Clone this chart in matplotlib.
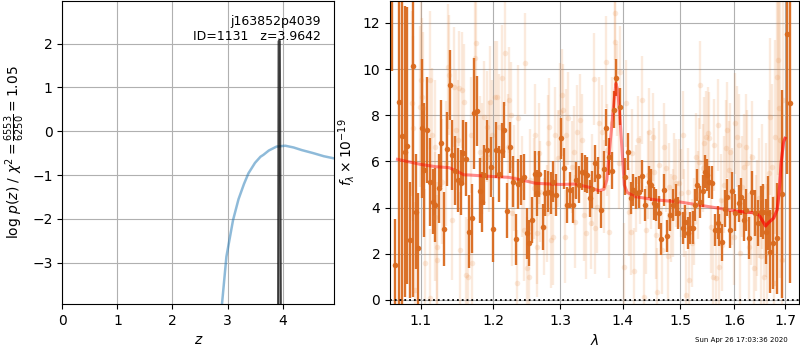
import numpy as np
import matplotlib
matplotlib.use("Agg")
import matplotlib.pyplot as plt
from matplotlib.ticker import FixedLocator, NullLocator, FormatStrFormatter

# ---------------- left panel data ----------------
z_coarse = [2.85, 2.90, 2.98, 3.10, 3.20, 3.30, 3.38, 3.50, 3.60, 3.65, 3.75,
            3.89, 4.05, 4.20, 4.35, 4.56, 4.75, 4.94]
logp_coarse = [-5.0, -3.94, -2.86, -2.03, -1.55, -1.20, -0.96, -0.72, -0.58,
               -0.54, -0.44, -0.35, -0.33, -0.37, -0.43, -0.50, -0.57, -0.62]
z_fine = [3.915, 3.928, 3.938, 3.950, 3.962, 3.975]
logp_fine = [-6.0, 2.05, 2.07, 2.06, -1.5, -6.0]
obj_name = "j163852p4039"
obj_id = 1131
z_best = 3.9642
chi2_num, chi2_den, chi2_red = 6553, 6250, 1.05

# ---------------- right panel data ----------------
dark_lam = [1.0636, 1.0671, 1.0716, 1.0756, 1.0791, 1.0822, 1.0862, 1.0902, 1.0942, 1.0960,
            1.1014, 1.1050, 1.1087, 1.1119, 1.1161, 1.1197, 1.1243, 1.1271, 1.1312, 1.1353,
            1.1395, 1.1422, 1.1464, 1.1500, 1.1542, 1.1574, 1.1610, 1.1656, 1.1693, 1.1725,
            1.1771, 1.1803, 1.1840, 1.1872, 1.1913, 1.1959, 1.2000, 1.2040, 1.2074, 1.2124,
            1.2158, 1.2193, 1.2233, 1.2282, 1.2327, 1.2361, 1.2401, 1.2446, 1.2485, 1.2520,
            1.2559, 1.2604, 1.2644, 1.2678, 1.2728, 1.2767, 1.2807, 1.2851, 1.2891, 1.2931,
            1.3005, 1.3060, 1.3108, 1.3151, 1.3195, 1.3243, 1.3287, 1.3341, 1.3384, 1.3422,
            1.3465, 1.3503, 1.3546, 1.3600, 1.3644, 1.3692, 1.3725, 1.3774, 1.3822, 1.3860,
            1.3898, 1.3952, 1.4047, 1.4094, 1.4135, 1.4176, 1.4222, 1.4281, 1.4333, 1.4386,
            1.4445, 1.4480, 1.4532, 1.4573, 1.4620, 1.4667, 1.4720, 1.4766, 1.4825, 1.4878,
            1.4924, 1.4954, 1.5043, 1.5092, 1.5134, 1.5183, 1.5226, 1.5268, 1.5305, 1.5366,
            1.5409, 1.5451, 1.5488, 1.5531, 1.5580, 1.5640, 1.5683, 1.5714, 1.5763, 1.5824,
            1.5866, 1.5915, 1.5958, 1.6020, 1.6085, 1.6137, 1.6183, 1.6235, 1.6281, 1.6334,
            1.6399, 1.6464, 1.6510, 1.6562, 1.6608, 1.6654, 1.6706, 1.6759, 1.6837, 1.6935,
            1.7033, 1.7098]
dark_flux = [16.0, 1.5, 8.56, 7.10, 6.42, 6.67, 2.60, 10.13, 3.82, 2.24,
             7.43, 5.63, 7.36, 5.12, 4.26, 4.11, 4.83, 6.78, 3.06, 6.54,
             9.31, 6.28, 5.60, 5.19, 5.08, 6.38, 6.09, 2.96, 3.54, 8.08,
             8.18, 4.73, 4.26, 5.41, 6.49, 5.77, 3.06, 6.49, 5.45, 6.46,
             7.36, 3.87, 6.61, 5.12, 2.63, 5.02, 5.19, 5.31, 2.89, 2.48,
             3.46, 5.45, 4.62, 5.45, 3.15, 4.62, 4.69, 4.62, 5.12, 4.55,
             7.00, 5.70, 4.11, 4.76, 4.11, 5.19, 4.98, 5.56, 5.48, 5.41,
             4.40, 4.79, 5.92, 5.37, 3.90, 5.66, 7.46, 6.20, 5.60, 8.23,
             9.62, 8.37, 5.34, 6.41, 4.40, 4.76, 4.62, 4.66, 5.38, 4.11,
             5.12, 4.98, 4.18, 4.11, 3.78, 2.64, 4.76, 2.77, 3.68, 4.11,
             4.33, 3.75, 3.10, 3.39, 2.89, 3.10, 3.13, 4.11, 4.98, 4.23,
             4.72, 5.56, 5.41, 5.12, 5.08, 3.03, 3.35, 3.03, 2.50, 3.94,
             4.44, 3.03, 4.73, 3.78, 4.18, 4.47, 3.46, 3.90, 2.67, 4.69,
             3.75, 3.32, 3.82, 3.82, 2.96, 3.75, 2.09, 2.45, 2.67, 4.59,
             11.54, 8.51]
dark_err = [6.1, 2.0, 9.0, 7.5, 6.3, 6.0, 2.5, 10.0, 2.5, 2.4,
            3.0, 2.9, 2.3, 1.9, 1.4, 1.6, 1.5, 1.9, 1.6, 1.6,
            1.5, 1.5, 1.5, 1.4, 1.4, 1.4, 1.6, 1.6, 1.5, 2.4,
            1.5, 1.4, 1.3, 1.3, 1.3, 1.3, 1.4, 1.2, 1.2, 1.2,
            1.2, 1.2, 1.1, 1.1, 1.1, 1.1, 1.1, 1.0, 1.1, 1.0,
            1.0, 1.0, 1.0, 1.0, 1.0, 1.0, 0.9, 0.9, 0.9, 0.9,
            0.9, 0.9, 0.8, 0.8, 0.8, 0.8, 0.8, 0.8, 0.8, 0.8,
            0.8, 0.8, 0.8, 0.8, 0.8, 0.8, 0.8, 0.8, 0.8, 0.8,
            0.8, 0.8, 0.8, 0.8, 0.7, 0.7, 0.7, 0.7, 0.7, 0.7,
            0.7, 0.7, 0.7, 0.7, 0.7, 0.7, 0.7, 0.7, 0.7, 0.7,
            0.7, 0.7, 0.7, 0.7, 0.7, 0.7, 0.7, 0.7, 0.7, 0.7,
            0.7, 0.7, 0.7, 0.7, 0.7, 0.7, 0.7, 0.7, 0.8, 0.8,
            0.8, 0.8, 0.8, 0.8, 0.8, 0.8, 0.9, 0.9, 0.9, 0.9,
            1.0, 1.0, 1.1, 1.2, 1.4, 1.6, 1.8, 2.0, 2.4, 4.5,
            6.1, 7.8]

light_lam = [1.0885, 1.0902, 1.0920, 1.0987, 1.1005, 1.1023, 1.1037, 1.1060, 1.1119, 1.1129,
             1.1151, 1.1184, 1.1197, 1.1211, 1.1220, 1.1289, 1.1335, 1.1367, 1.1381, 1.1418,
             1.1450, 1.1473, 1.1496, 1.1519, 1.1528, 1.1551, 1.1588, 1.1610, 1.1647, 1.1679,
             1.1702, 1.1739, 1.1748, 1.1803, 1.1831, 1.1872, 1.1909, 1.1932, 1.1955, 1.1977,
             1.2015, 1.2050, 1.2074, 1.2124, 1.2173, 1.2213, 1.2223, 1.2248, 1.2272, 1.2297,
             1.2337, 1.2361, 1.2421, 1.2446, 1.2460, 1.2495, 1.2520, 1.2535, 1.2594, 1.2609,
             1.2634, 1.2644, 1.2668, 1.2693, 1.2743, 1.2792, 1.2802, 1.2817, 1.2857, 1.2891,
             1.2916, 1.2955, 1.2990, 1.3027, 1.3043, 1.3070, 1.3087, 1.3124, 1.3179, 1.3206,
             1.3233, 1.3260, 1.3314, 1.3341, 1.3368, 1.3406, 1.3476, 1.3503, 1.3530, 1.3546,
             1.3584, 1.3611, 1.3665, 1.3692, 1.3719, 1.3747, 1.3784, 1.3828, 1.3871, 1.3882,
             1.3909, 1.3936, 1.3963, 1.4018, 1.4059, 1.4105, 1.4135, 1.4164, 1.4193, 1.4222,
             1.4257, 1.4292, 1.4328, 1.4369, 1.4398, 1.4427, 1.4456, 1.4486, 1.4515, 1.4544,
             1.4573, 1.4591, 1.4632, 1.4679, 1.4720, 1.4749, 1.4778, 1.4807, 1.4836, 1.4866,
             1.4895, 1.4924, 1.4982, 1.5012, 1.5043, 1.5073, 1.5104, 1.5134, 1.5165, 1.5214,
             1.5256, 1.5287, 1.5317, 1.5348, 1.5366, 1.5409, 1.5439, 1.5470, 1.5500, 1.5531,
             1.5561, 1.5592, 1.5622, 1.5653, 1.5683, 1.5714, 1.5744, 1.5775, 1.5805, 1.5836,
             1.5866, 1.5897, 1.5927, 1.5958, 1.5988, 1.6020, 1.6052, 1.6085, 1.6118, 1.6150,
             1.6183, 1.6216, 1.6248, 1.6281, 1.6314, 1.6347, 1.6379, 1.6412, 1.6445, 1.6478,
             1.6510, 1.6543, 1.6576, 1.6608, 1.6641, 1.6674, 1.6706, 1.6739, 1.6772, 1.6804,
             1.6837, 1.6856, 1.6869, 1.6902, 1.6935, 1.6967]
light_flux = [8.51, 7.43, 0.43, 8.37, 9.52, 8.80, 8.30, 1.59, 0.07, 9.52,
              7.14, 6.64, 3.61, 1.73, 2.31, 5.12, 5.92, 10.10, 9.74, 3.46,
              9.24, 7.36, 6.93, 9.16, 2.16, 9.09, 8.59, 1.08, 1.01, 7.14,
              1.59, 10.46, 11.14, 6.42, 6.13, 7.94, 7.50, 6.20, 8.59, 7.14,
              8.80, 8.80, 7.50, 9.60, 10.68, 6.64, 8.66, 8.01, 3.75, 5.27,
              0.72, 7.86, 4.91, 3.03, 10.25, 1.37, 1.01, 5.19, 4.83, 7.14,
              2.89, 2.31, 6.35, 4.69, 3.17, 3.75, 6.78, 7.50, 2.60, 2.74,
              7.14, 6.13, 8.15, 8.87, 8.23, 2.74, 7.14, 7.86, 5.77, 6.42,
              3.39, 7.29, 7.79, 6.93, 3.68, 2.89, 3.32, 5.19, 9.57, 3.10,
              4.04, 7.65, 7.29, 4.91, 10.32, 6.49, 2.96, 7.65, 12.41, 11.18,
              9.09, 5.92, 9.88, 1.44, 8.51, 3.82, 2.96, 6.35, 1.23, 4.83,
              6.93, 5.19, 8.66, 0.14, 3.03, 5.41, 7.29, 4.98, 7.07, 5.56,
              2.81, 0.36, 5.84, 2.16, 6.64, 5.70, 1.88, 4.91, 3.54, 3.75,
              5.34, 5.05, 5.05, 4.62, 7.14, 3.75, 0.22, 4.69, 0.87, 2.45,
              3.39, 6.20, 4.55, 5.99, 9.31, 5.70, 6.78, 7.07, 7.22, 7.00,
              3.17, 1.01, 6.71, 0.94, 7.58, 1.44, 4.33, 2.38, 4.98, 6.57,
              7.36, 5.63, 6.42, 4.47, 2.74, 7.65, 7.07, 6.71, 2.02, 4.91,
              5.77, 6.64, 5.92, 2.31, 3.90, 6.20, 1.37, 2.89, 3.54, 4.40,
              1.88, 4.91, 1.01, 3.90, 2.02, 5.48, 7.94, 5.77, 0.72, 7.07,
              9.67, 10.39, 8.30, 6.93, 1.73, 8.66]
light_err = [4.0, 4.0, 3.8, 3.5, 3.5, 3.4, 3.3, 3.2, 3.0, 3.0,
             2.9, 2.9, 2.8, 2.8, 2.8, 2.7, 2.7, 2.7, 2.6, 2.6,
             2.6, 2.6, 2.6, 2.5, 2.5, 2.5, 2.5, 2.5, 2.5, 2.5,
             2.5, 2.5, 2.5, 2.4, 2.4, 2.4, 2.4, 2.4, 2.4, 2.4,
             2.4, 2.4, 2.3, 2.3, 2.3, 2.3, 2.3, 2.3, 2.3, 2.3,
             2.3, 2.3, 2.2, 2.2, 2.2, 2.2, 2.2, 2.2, 2.2, 2.2,
             2.2, 2.2, 2.2, 2.2, 2.1, 2.1, 2.1, 2.1, 2.1, 2.1,
             2.1, 2.1, 2.1, 2.0, 2.0, 2.0, 2.0, 2.0, 2.0, 2.0,
             2.0, 2.0, 2.0, 2.0, 2.0, 2.0, 2.0, 2.0, 2.0, 2.0,
             2.0, 2.0, 2.0, 2.0, 2.0, 2.0, 2.0, 2.0, 2.0, 2.0,
             2.0, 2.0, 2.0, 1.9, 1.9, 1.9, 1.9, 1.9, 1.9, 1.9,
             1.9, 1.9, 1.9, 1.9, 1.9, 1.9, 1.9, 1.9, 1.9, 1.9,
             1.9, 1.9, 1.9, 1.9, 1.9, 1.9, 1.9, 1.9, 1.9, 1.9,
             1.9, 1.9, 1.9, 1.9, 1.9, 1.9, 1.9, 1.9, 1.9, 1.9,
             1.9, 1.9, 1.9, 1.9, 1.9, 1.9, 2.0, 2.0, 2.0, 2.0,
             2.0, 2.0, 2.0, 2.0, 2.0, 2.0, 2.0, 2.0, 2.1, 2.1,
             2.1, 2.1, 2.1, 2.1, 2.1, 2.2, 2.2, 2.2, 2.2, 2.2,
             2.3, 2.3, 2.3, 2.3, 2.4, 2.4, 2.4, 2.5, 2.5, 2.6,
             2.6, 2.7, 2.8, 2.9, 3.0, 3.2, 3.4, 3.6, 3.8, 4.2,
             4.6, 5.0, 5.5, 6.0, 6.5, 7.0]

model_lam = [1.070, 1.100, 1.120, 1.138, 1.150, 1.158, 1.166, 1.200, 1.222, 1.242,
             1.262, 1.300, 1.323, 1.345, 1.361, 1.369, 1.374, 1.380, 1.385, 1.389,
             1.392, 1.396, 1.400, 1.403, 1.408, 1.422, 1.457, 1.500, 1.541, 1.571,
             1.600, 1.635, 1.648, 1.654, 1.661, 1.667, 1.677, 1.684, 1.688, 1.692,
             1.697, 1.700]
model_flux = [6.09, 5.87, 5.77, 5.73, 5.56, 5.42, 5.41, 5.34, 5.31, 5.19,
              5.05, 5.00, 5.02, 4.88, 4.73, 4.79, 5.19, 6.93, 8.37, 9.38,
              9.09, 7.79, 6.20, 4.98, 4.65, 4.47, 4.33, 4.24, 4.08, 3.97,
              3.85, 3.78, 3.68, 3.46, 3.20, 3.35, 3.54, 3.90, 4.62, 5.92,
              6.85, 7.00]
model2_lam = [1.600, 1.635, 1.648, 1.654, 1.661, 1.667, 1.677, 1.684, 1.688, 1.692,
              1.697, 1.700]
model2_flux = [3.85, 3.78, 3.68, 3.46, 3.20, 3.35, 3.54, 3.90, 4.62, 5.92,
               6.85, 7.00]

xtick_vals = [1.1, 1.2, 1.3, 1.4, 1.5, 1.6, 1.7]
timestamp = "Sun Apr 26 17:03:36 2020"

dark_col = '#d96a1e'
light_col = '#e8853a'

fig = plt.figure(figsize=(8, 3.5), dpi=100)
ax1 = fig.add_axes([0.0779, 0.1314, 0.340, 0.8657])
ax2 = fig.add_axes([0.4875, 0.1314, 0.5115, 0.8657])

# ---- left panel ----
ax1.plot(z_coarse, logp_coarse, color='tab:blue', alpha=0.5, lw=1.8)
ax1.fill_between(z_fine, logp_fine, -10, color='0.3', alpha=0.4, lw=0)
ax1.plot(z_fine, logp_fine, color='k', alpha=0.7, lw=1.5)
ax1.set_xlim(0, 4.94)
ax1.set_ylim(-3.94, 2.97)
ax1.set_xticks([0, 1, 2, 3, 4])
ax1.set_yticks([-3, -2, -1, 0, 1, 2])
ax1.grid(True)
ax1.set_xlabel(r'$z$', fontsize=10)
ax1.set_ylabel(r'$\log\,p(z)$ / $\chi^2=\frac{%d}{%d}=%.2f$' % (chi2_num, chi2_den, chi2_red),
               fontsize=10)
ax1.text(0.95, 0.955, '%s\nID=%d   z=%.4f' % (obj_name, obj_id, z_best),
         transform=ax1.transAxes, ha='right', va='top', fontsize=9)

# ---- right panel ----
ax2.errorbar(light_lam, light_flux, yerr=light_err, fmt='o', color=light_col,
             alpha=0.17, ms=4, elinewidth=1.7, mew=0, capsize=0)
ax2.errorbar(dark_lam, dark_flux, yerr=dark_err, fmt='o', color=dark_col,
             alpha=0.95, ms=4, elinewidth=1.7, mew=0, capsize=0)
ax2.plot(model_lam, model_flux, color='r', alpha=0.45, lw=2.2)
ax2.plot(model2_lam, model2_flux, color='r', alpha=0.4, lw=2.2)
ax2.axhline(0, color='k', ls=':', lw=1.3)
ax2.set_xscale('log')
ax2.set_xlim(1.0605, 1.729)
ax2.set_ylim(-0.18, 12.95)
ax2.xaxis.set_major_locator(FixedLocator(xtick_vals))
ax2.xaxis.set_minor_locator(NullLocator())
ax2.xaxis.set_major_formatter(FormatStrFormatter('%.1f'))
ax2.set_yticks([0, 2, 4, 6, 8, 10, 12])
ax2.grid(True)
ax2.set_xlabel(r'$\lambda$', fontsize=10)
ax2.set_ylabel(r'$f_\lambda\times10^{-19}$', fontsize=10)

fig.text(0.985, 0.029, timestamp, ha='right', va='center', fontsize=5)

fig.savefig('out.png', dpi=100)
